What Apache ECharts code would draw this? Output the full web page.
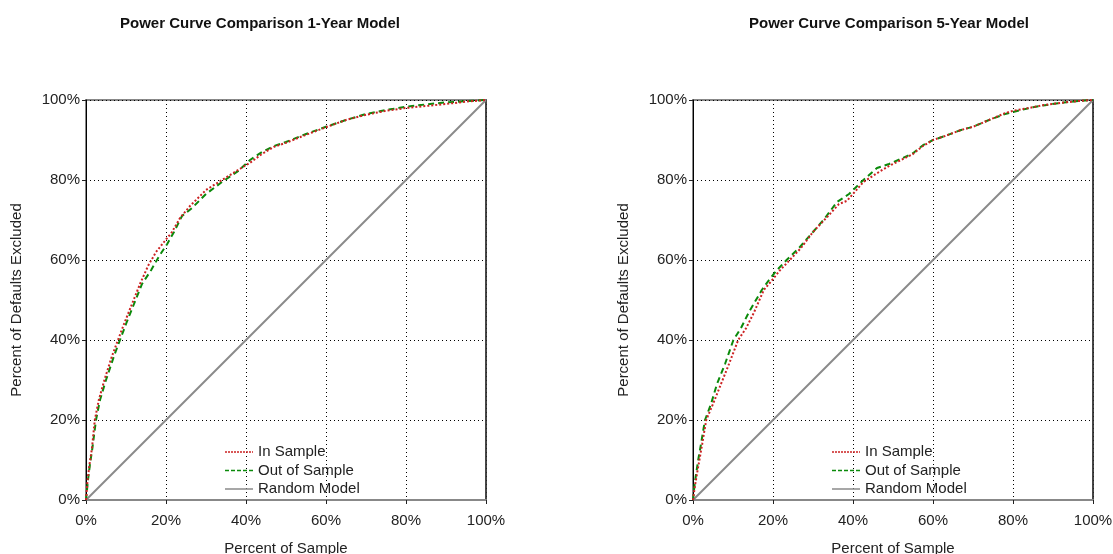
<!DOCTYPE html>
<html>
<head>
<meta charset="utf-8">
<script src="https://cdn.jsdelivr.net/npm/echarts@6/dist/echarts.min.js"></script>
<style>
html,body{margin:0;padding:0;background:#fff;}
#chart{width:1113px;height:554px;}
</style>
</head>
<body>
<div id="chart"></div>
<script>
// ---- Data (x = % of sample, y = % of defaults excluded) ----
const titles = ['Power Curve Comparison 1-Year Model', 'Power Curve Comparison 5-Year Model'];
const seriesNames = ['In Sample', 'Out of Sample', 'Random Model'];
const tickValues = [0, 20, 40, 60, 80, 100];

// 1-Year model
const inSample1 = [[0,0],[0.4,5],[0.9,9],[1.5,13],[2.2,20],[3.2,25],[4.6,30],[6.5,36],[8,40],[9.5,44],[11.5,49],[13.5,54],[15.5,58.5],[17.5,62],[19.5,64.5],[21.5,67],[23.5,70.5],[26,73.5],[30,77.5],[34,80],[38,82.5],[41,84.3],[44,86.5],[47,88.3],[50,89.3],[55,91.3],[60,93.2],[65,95],[70,96.3],[75,97.3],[80,98],[85,98.5],[90,99],[95,99.6],[100,100]];
const outSample1 = [[0,0],[0.5,5],[1,9],[1.6,13],[2.5,20],[3.5,25],[5,30],[7,36],[8.5,40],[10,44],[12,49],[14,54],[16.3,57.5],[18.3,61],[20.3,64],[22,67],[24,71],[26.5,73],[30,76.5],[34,79.5],[38,82.2],[41,85],[44,87],[47,88.5],[50,89.5],[55,91.5],[60,93.3],[65,95],[70,96.5],[75,97.5],[80,98.3],[85,98.9],[90,99.4],[95,99.7],[100,100]];

// 5-Year model
const inSample5 = [[0,0],[0.4,3],[0.9,6],[1.6,10],[2.3,14],[3.3,20],[5,24],[7,29],[9,34],[11.3,40],[13.3,43],[15.3,47],[17.7,52.5],[19.8,55],[21.8,57.5],[24.2,60],[27,63],[30,67],[33.3,70.5],[36.5,74],[38.5,74.8],[40,76.5],[42.6,79.5],[46,81.7],[49,83.5],[52,85],[55,86.5],[57.5,88.5],[60,90],[63,91],[67,92.5],[70,93.3],[74,95],[78,96.7],[80,97.3],[85,98.2],[88,98.8],[92,99.3],[97,99.8],[100,100]];
const outSample5 = [[0,0],[0.3,3],[0.7,6],[1.3,10],[2,14],[3,20],[4.5,24],[6,29],[8,34],[10.1,40],[12,43],[14,47],[17.2,52.5],[19,55],[21,57.5],[23.4,60],[26.5,63],[30,67],[33,70.5],[36,74.5],[39,76.5],[42.6,80],[46,83],[49,84],[52,85.3],[55,86.7],[57.5,88.7],[60,90],[63,91],[67,92.5],[70,93.3],[74,95],[78,96.5],[80,97],[85,98.2],[88,98.7],[92,99.3],[97,99.8],[100,100]];

const randomModel = [[0,0],[100,100]];

const FONT = 'Liberation Sans, Arial, sans-serif';
const grids = [
  {left: 86, top: 100, width: 400, height: 400},
  {left: 693, top: 100, width: 400, height: 400}
];

function xAxisFor(i) {
  return {
    type: 'value', gridIndex: i, min: 0, max: 100, interval: 20,
    name: 'Percent of Sample', nameLocation: 'middle', nameGap: 41,
    nameTextStyle: {fontFamily: FONT, fontSize: 15, color: '#222'},
    axisLine: {show: true, onZero: false, lineStyle: {color: '#888', width: 2}},
    axisTick: {show: true, inside: false, length: 4, lineStyle: {color: '#222'}},
    axisLabel: {formatter: v => v + '%', fontFamily: FONT, fontSize: 15, color: '#222', margin: 13},
    splitLine: {show: true, lineStyle: {color: '#000', type: [1, 3], width: 1}}
  };
}
function yAxisFor(i) {
  return {
    type: 'value', gridIndex: i, min: 0, max: 100, interval: 20,
    name: 'Percent of Defaults Excluded', nameLocation: 'middle', nameGap: 62,
    nameTextStyle: {fontFamily: FONT, fontSize: 15, color: '#222'},
    axisLine: {show: true, onZero: false, lineStyle: {color: '#000', width: 1}},
    axisTick: {show: true, inside: false, length: 4, lineStyle: {color: '#222'}},
    axisLabel: {formatter: v => v + '%', fontFamily: FONT, fontSize: 15, color: '#222', margin: 6},
    splitLine: {show: true, lineStyle: {color: '#000', type: [1, 3], width: 1}}
  };
}
function rightBorderAxis(i) {
  return {
    type: 'value', gridIndex: i, min: 0, max: 100, interval: 20, position: 'right',
    axisLine: {show: true, onZero: false, lineStyle: {color: '#333', width: 1.5}},
    axisTick: {show: false}, axisLabel: {show: false}, splitLine: {show: false}
  };
}

function curveSeries(name, data, gi, color, type, width) {
  return {
    name: name, type: 'line', xAxisIndex: gi, yAxisIndex: gi * 2, data: data,
    showSymbol: false, symbol: 'none', smooth: false, animation: false,
    lineStyle: {color: color, type: type, width: width},
    itemStyle: {color: color}
  };
}

const seriesAll = [];
const curves = [[inSample1, outSample1], [inSample5, outSample5]];
for (let g = 0; g < 2; g++) {
  seriesAll.push(curveSeries(seriesNames[2], randomModel, g, '#8a8a8a', 'solid', 2));
  seriesAll.push(curveSeries(seriesNames[1], curves[g][1], g, '#0a8a0a', [6, 4], 2));
  seriesAll.push(curveSeries(seriesNames[0], curves[g][0], g, '#cc2222', [2, 2], 2));
}

// legend icons: thin line glyphs (dotted / dashed / solid), 28 x 1.5 units
function dashPath(dash, gap) {
  let p = '';
  for (let x = 0; x < 28; x += dash + gap) {
    const w = Math.min(dash, 28 - x);
    p += 'M' + x + ',0h' + w + 'v1.5h-' + w + 'z';
  }
  return 'path://' + p;
}
const legendIcons = [dashPath(2, 1), dashPath(4, 2), 'path://M0,0h28v1.5h-28z'];
const legendData = seriesNames.map((n, i) => ({name: n, icon: legendIcons[i]}));

const legendBase = {
  orient: 'vertical', top: 443, itemWidth: 28, itemHeight: 1.5, itemGap: 0.5, padding: 0,
  symbolKeepAspect: false,
  textStyle: {fontFamily: FONT, fontSize: 15, color: '#222', lineHeight: 18},
  data: legendData, selectedMode: false
};

const chart = echarts.init(document.getElementById('chart'), null, {renderer: 'canvas'});
chart.setOption({
  animation: false,
  backgroundColor: '#fff',
  title: [
    {text: titles[0], left: 255, top: 11, textAlign: 'center', textStyle: {fontFamily: FONT, fontSize: 15, fontWeight: 'bold', color: '#111'}},
    {text: titles[1], left: 884, top: 11, textAlign: 'center', textStyle: {fontFamily: FONT, fontSize: 15, fontWeight: 'bold', color: '#111'}}
  ],
  grid: grids.map(g => Object.assign({show: true, borderColor: '#888', borderWidth: 2, backgroundColor: '#fff', containLabel: false, outerBoundsMode: 'none'}, g)),
  legend: [
    Object.assign({}, legendBase, {left: 225}),
    Object.assign({}, legendBase, {left: 832})
  ],
  xAxis: [xAxisFor(0), xAxisFor(1)],
  yAxis: [yAxisFor(0), rightBorderAxis(0), yAxisFor(1), rightBorderAxis(1)],
  series: seriesAll
});
</script>
</body>
</html>
